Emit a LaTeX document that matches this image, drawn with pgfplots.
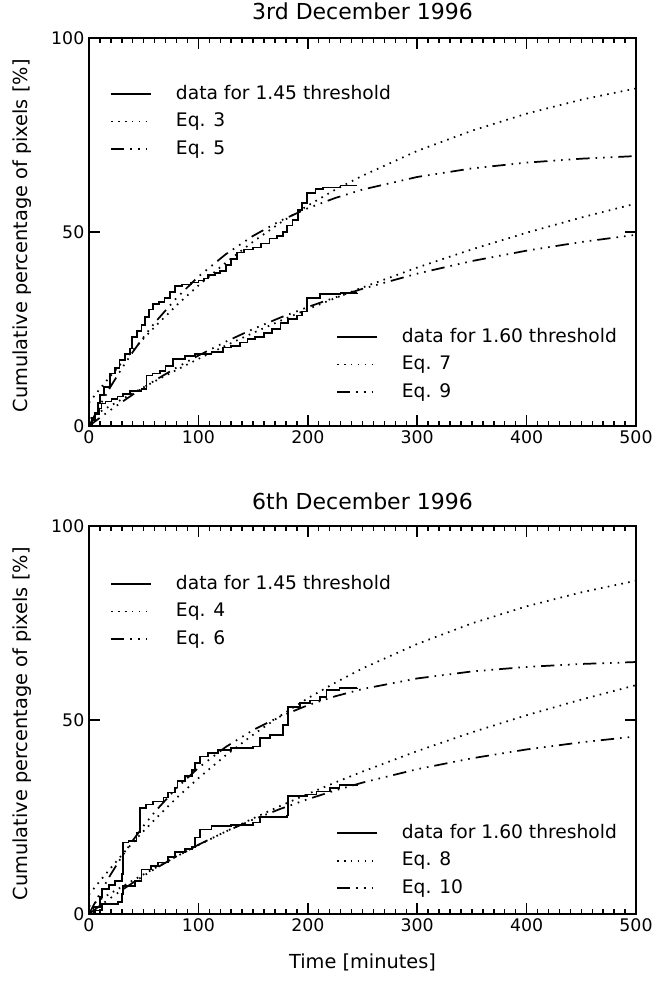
\documentclass[border=0pt]{standalone}
\usepackage{fontspec}
\setmainfont{DejaVu Sans}
\usepackage{pgfplots}
\pgfplotsset{compat=1.18}

\pgfplotsset{
  common/.style={
    scale only axis, width=410.25pt, height=291pt,
    xmin=0, xmax=500, ymin=0, ymax=100,
  },
  legstyle/.style={
    legend style={draw=none, fill=none, font=\fontsize{14}{17}\selectfont,
      legend cell align=left, row sep=4.5pt,
      nodes={inner sep=1pt, text height=11pt, text depth=3pt},
      /tikz/every odd column/.append style={column sep=17pt}},
    legend image code/.code={\draw[#1] (0pt,0pt) -- (30pt,0pt);},
  },
  panel/.style={
    common, legstyle,
    xtick={0,100,...,500}, ytick={0,50,100},
    minor x tick num=9,
    tick align=inside,
    major tick length=8pt, minor tick length=4pt,
    axis line style={line width=1.5pt},
    every tick/.append style={black, line width=1.1pt},
    tick label style={font=\fontsize{13}{15}\selectfont},
    /pgf/number format/assume math mode=true,
    label style={font=\fontsize{14.5}{17}\selectfont},
    title style={font=\fontsize{16.5}{20}\selectfont},
    ylabel={Cumulative percentage of pixels [\%]},
    ylabel style={at={(axis description cs:-0.1225,0.49)}, anchor=center},
  },
  side/.style={common, legstyle, hide axis},
  dat/.style={black, line width=1.3pt, const plot mark left},
  dotline/.style={black, line width=1.3pt, dash pattern=on 1.2pt off 4pt},
  dddline/.style={black, line width=1.3pt, dash pattern=on 10pt off 4.5pt on 1.2pt off 4.5pt on 1.2pt off 4.5pt on 1.2pt off 4.5pt},
}

\begin{document}
\begin{tikzpicture}
\path[use as bounding box] (0,0) rectangle (488.25pt,735.75pt);

% ===== Top panel =====
\begin{axis}[panel, at={(66.75pt,416.25pt)}, anchor=south west,
  title={3rd December 1996},
  title style={at={(axis description cs:0.5,1)}, anchor=base, yshift=7.5pt},
  legend style={at={(axis description cs:0.031,0.89)}, anchor=north west}]
\addplot[dat] coordinates {
(0,0) (3,2) (5,3.5) (8,6) (10,8) (14,10) (19,13.5) (24,15) (28,17) (33,18.5)
(37.5,20) (39,23) (44,24.5) (48,26) (51,28) (55,30) (58.5,31.5) (64,32) (69,33)
(74,34.5) (78.5,36) (85,36.5) (93,37) (100,37.5) (105,38) (109,39) (115,39.5)
(120,40) (125,41.5) (130,43) (135,44.7) (142,45.5) (150,46) (157,47) (165,48.3)
(172,49) (177,50) (181,51.7) (186,53) (191,55.6) (195,57.5) (199,60) (207,61)
(214,61.5) (230,62) (245,62)};
\addlegendentry{data for 1.45 threshold}
\addplot[dotline] coordinates {
(0,6) (10,9.6) (20,13.0) (30,16.3) (40,19.5) (50,22.6) (60,25.5) (80,31.1)
(100,36.2) (125,42.1) (150,47.5) (175,52.4) (200,56.8) (225,60.9) (250,64.5)
(300,70.9) (350,76.1) (400,80.5) (450,84.1) (500,87.0)};
\addlegendentry{Eq. 3}
\addplot[dddline] coordinates {
(0,0) (10,5.33) (20,10.27) (30,14.83) (40,19.06) (50,22.95) (60,26.57) (80,32.99)
(100,38.50) (125,44.26) (150,49.00) (175,52.91) (200,56.12) (225,58.76) (250,60.93)
(300,64.18) (350,66.39) (400,67.88) (450,68.89) (500,69.57)};
\addlegendentry{Eq. 5}
\end{axis}

\begin{axis}[side, at={(66.75pt,416.25pt)}, anchor=south west,
  legend style={at={(axis description cs:0.444,0.264)}, anchor=north west}]
\addplot[dat] coordinates {
(0,0) (3,1.5) (6,3) (9,4.5) (11.5,5.8) (15,6.3) (20.5,7) (26,7.6) (31,8.3)
(37.5,9) (48,9.6) (52.5,13) (58,13.5) (65,14.2) (70,15.5) (77,17.3) (88,18)
(97,18.6) (112,19) (122.5,20.2) (130,20.7) (138,21.5) (145,22.5) (152,23)
(160,24) (167,25) (175,26.5) (182,27.5) (190,28.5) (195,29.5) (199,33) (211,34)
(230,34.3) (245,34.4)};
\addlegendentry{data for 1.60 threshold}
\addplot[dotline] coordinates {
(0,2) (10,3.65) (20,5.28) (30,6.88) (40,8.45) (50,9.99) (60,11.50) (80,14.45)
(100,17.29) (125,20.72) (150,23.99) (175,27.12) (200,30.11) (225,32.96) (250,35.70)
(300,40.83) (350,45.52) (400,49.81) (450,53.73) (500,57.33)};
\addlegendentry{Eq. 7}
\addplot[dddline] coordinates {
(0,0) (10,2.13) (20,4.19) (30,6.17) (40,8.09) (50,9.92) (60,11.70) (80,15.05)
(100,18.15) (125,21.73) (150,24.99) (175,27.95) (200,30.66) (225,33.12) (250,35.36)
(300,39.27) (350,42.51) (400,45.19) (450,47.42) (500,49.27)};
\addlegendentry{Eq. 9}
\end{axis}

% ===== Bottom panel =====
\begin{axis}[panel, at={(66.75pt,50.25pt)}, anchor=south west,
  title={6th December 1996},
  title style={at={(axis description cs:0.5,1)}, anchor=base, yshift=6pt},
  xlabel={Time [minutes]},
  xlabel style={at={(axis description cs:0.5,0)}, anchor=center, yshift=-36pt},
  legend style={at={(axis description cs:0.031,0.885)}, anchor=north west}]
\addplot[dat] coordinates {
(0,0) (4,1.8) (10,4.3) (11.6,6.4) (18,7.5) (24,8.5) (30,10.3) (31,18.4) (36,18.8)
(43.5,21) (46.6,27.4) (52,28.2) (58.5,29) (68,30) (72,31.3) (78.6,32.6) (81,34.2)
(88,35.5) (94,37.2) (97,39) (101.5,40.6) (109,41.5) (118,42.3) (130,42.8)
(150,43.2) (156,45.4) (165.5,46.2) (177.6,48.7) (182,53.4) (193,54.4) (202,55)
(211,56) (217,57.7) (229,58.2) (245,58.3)};
\addlegendentry{data for 1.45 threshold}
\addplot[dotline] coordinates {
(0,5) (10,8.5) (20,11.9) (30,15.2) (40,18.4) (50,21.4) (60,24.3) (80,29.9)
(100,35.0) (125,40.9) (150,46.2) (175,51.1) (200,55.6) (225,59.6) (250,63.3)
(300,69.6) (350,74.9) (400,79.3) (450,82.9) (500,85.9)};
\addlegendentry{Eq. 4}
\addplot[dddline] coordinates {
(0,0) (10,5.35) (20,10.27) (30,14.79) (40,18.94) (50,22.76) (60,26.27) (80,32.45)
(100,37.66) (125,43.05) (150,47.41) (175,50.95) (200,53.80) (225,56.11) (250,57.98)
(300,60.71) (350,62.51) (400,63.68) (450,64.44) (500,64.94)};
\addlegendentry{Eq. 6}
\end{axis}

\begin{axis}[side, at={(66.75pt,50.25pt)}, anchor=south west,
  legend style={at={(axis description cs:0.444,0.243)}, anchor=north west}]
\addplot[dat] coordinates {
(0,0) (5.5,0.9) (11.6,2.6) (26.5,3) (30,5.1) (31,7.3) (42,8.5) (48,11.5) (57,12.4)
(63,13.3) (72,14.6) (78.6,15.9) (88,16.7) (94,17.2) (97,19.7) (101.5,21.8)
(112,22.6) (130,23) (150,23.6) (156,25) (180.7,25.4) (182,30.5) (199,30.8)
(208,31.6) (220,32.5) (229,33.3) (245,33.5)};
\addlegendentry{data for 1.60 threshold}
\addplot[dotline] coordinates {
(0,2) (10,3.70) (20,5.38) (30,7.02) (40,8.64) (50,10.23) (60,11.79) (80,14.83)
(100,17.75) (125,21.27) (150,24.64) (175,27.87) (200,30.94) (225,33.89) (250,36.70)
(300,41.99) (350,46.82) (400,51.23) (450,55.27) (500,58.98)};
\addlegendentry{Eq. 8}
\addplot[dddline] coordinates {
(0,0) (10,2.14) (20,4.19) (30,6.16) (40,8.04) (50,9.86) (60,11.59) (80,14.85)
(100,17.85) (125,21.26) (150,24.33) (175,27.10) (200,29.59) (225,31.84) (250,33.86)
(300,37.32) (350,40.13) (400,42.41) (450,44.25) (500,45.76)};
\addlegendentry{Eq. 10}
\end{axis}
\end{tikzpicture}
\end{document}
